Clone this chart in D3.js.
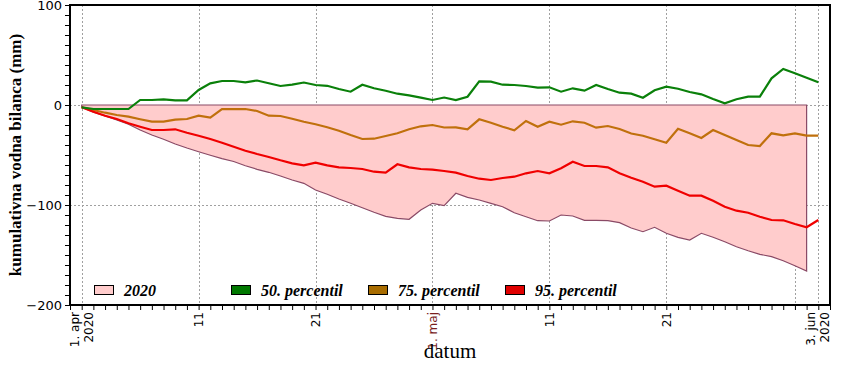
<!DOCTYPE html>
<html lang="sl">
<head>
    <meta charset="UTF-8"/>
    <title>bilanca</title>
    <script src="https://d3js.org/d3.v7.min.js" charset="utf-8"></script>
    <style type="text/css">
        body {
            margin: 0;
            background: #ffffff;
        }
        text {
            font-family: "DejaVu Sans", Verdana, sans-serif;
            font-size: 12px;
        }
        .grid line {
            stroke: #a0a0a0;
            stroke-dasharray: 2,2;
            shape-rendering: crispEdges;
        }
    </style>
</head>
<body>
<div id="my_dataviz"></div>
<script>

// data: one value per day, starting 1. apr 2020
var startDay = Date.UTC(2020, 3, 1);

var p50 = [-2.3, -4, -4, -4, -4, 5, 5, 5.7, 4.7, 4.7,
    15, 21.7, 24, 24, 22.7, 24.5, 21.7, 19, 20.3, 22.5,
    20, 19.2, 16, 13.3, 20.3, 16.7, 14.3, 11.3, 9.7, 7.3,
    5, 7.5, 5, 8.3, 23.7, 23.3, 20.3, 20, 19, 17.3,
    17.7, 13.3, 16.7, 14.3, 20, 16, 12.3, 11.3, 7.3, 14.7,
    18.3, 16.3, 13, 10.7, 6, 1.7, 5.7, 8.3, 8.3, 26.7,
    36, 31.7, 27.3, 22.7];

var p75 = [-2.3, -5, -7.7, -10, -11.7, -14.3, -16.7, -16.7, -14.7, -14,
    -10.7, -12.7, -4, -4.2, -4, -6, -10.7, -11, -13.7, -16.7,
    -19.3, -22.3, -25.7, -30, -34, -33.7, -31, -28.2, -24.3, -21.3,
    -20, -22.5, -22.3, -24.3, -14.3, -17.7, -21.7, -25.3, -16, -21.7,
    -16.7, -19.7, -16.3, -17.7, -22.7, -21, -24, -28.5, -30.7, -34.3,
    -37.7, -23.7, -28.3, -33, -25, -30, -35, -40, -41, -28.3,
    -30.3, -28.3, -30.7, -30.7];

var p95 = [-2.3, -6.7, -10.7, -14, -18.3, -21.7, -25, -25, -24.3, -27.7,
    -30.7, -34, -37.7, -41.8, -45.7, -49, -52, -55.3, -58.3, -60.3,
    -57.7, -60.3, -62.3, -63, -64, -66.7, -67.7, -59.3, -62.3, -64,
    -64.7, -66, -67.7, -71, -73.7, -75, -73, -71.7, -68.3, -66,
    -68.3, -63.3, -56.7, -61, -61, -62.3, -68.3, -72.8, -76.7, -81.7,
    -80.7, -85.7, -90.7, -90.7, -95.7, -101.7, -105.7, -107.7, -111.7, -115,
    -115.3, -119, -122.3, -115];

var y2020 = [-2.3, -7.3, -11, -15, -19.3, -25, -30, -34.3, -39, -43,
    -46.7, -50.3, -53.7, -56.5, -60.7, -64.3, -67.3, -71, -75, -78.3,
    -85, -89.3, -94, -98.3, -102.7, -107.3, -111.3, -113.3, -114.3, -105,
    -98.3, -100.7, -88.3, -92.3, -95, -98.3, -101.7, -107.7, -111.7, -115.7,
    -116, -110, -111, -115.3, -115.3, -115.7, -117.7, -123, -126.7, -122.3,
    -128.3, -132.3, -135, -128.3, -132.3, -136.7, -141.7, -145.7, -149.3, -151.7,
    -155.7, -160.7, -166];

// tick labels (day offset from 1. apr)
var tickDays = [0, 10, 20, 30, 40, 50, 63];
var tickLabels = [["1. apr", "2020"], ["11"], ["21"], ["1. maj"], ["11"], ["21"], ["3. jun", "2020"]];
var gridDays = [0, 10, 20, 30, 40, 50, 61, 63];
var yTicks = [100, 0, -100, -200];

var legendLabels = ["2020", "50. percentil", "75. percentil", "95. percentil"];
var legendColors = ["#ffcccc", "#007800", "#a86c00", "#e00000"];

function day(i) { return new Date(startDay + i * 86400000); }

// set the dimensions and margins of the graph
var margin = {top: 5, right: 20, bottom: 65, left: 70},
    width = 850 - margin.left - margin.right,
    height = 370 - margin.top - margin.bottom;

var svg = d3.select("#my_dataviz")
  .append("svg")
    .attr("width", 850)
    .attr("height", 370)
  .append("g")
    .attr("transform", "translate(" + margin.left + "," + margin.top + ")");

var x = d3.scaleUtc()
  .domain([day(-1), day(64)])
  .range([0, width]);

var y = d3.scaleLinear()
  .domain([-200, 100])
  .range([height, 0]);

// grid
var grid = svg.append("g").attr("class", "grid");
grid.selectAll("vline")
  .data(gridDays)
  .enter()
  .append("line")
    .attr("x1", function(d) { return Math.round(x(day(d))) + 0.5; })
    .attr("x2", function(d) { return Math.round(x(day(d))) + 0.5; })
    .attr("y1", 0)
    .attr("y2", height);
grid.selectAll("hline")
  .data([0, -100])
  .enter()
  .append("line")
    .attr("x1", 0)
    .attr("x2", width)
    .attr("y1", function(d) { return y(d) + 0.5; })
    .attr("y2", function(d) { return y(d) + 0.5; });

// 2020 area, closed back along zero
var area = d3.area()
  .x(function(d, i) { return x(day(i)); })
  .y0(y(0))
  .y1(function(d) { return y(d); });

svg.append("path")
  .datum(y2020)
  .attr("d", area)
  .attr("fill", "#ffcccc")
  .attr("stroke", "#8a4a66")
  .attr("stroke-width", 1.2);

// percentile lines
var line = d3.line()
  .x(function(d, i) { return x(day(i)); })
  .y(function(d) { return y(d); });

svg.append("path").datum(p75).attr("d", line)
  .attr("fill", "none").attr("stroke", "#c0700c").attr("stroke-width", 2.2);
svg.append("path").datum(p95).attr("d", line)
  .attr("fill", "none").attr("stroke", "#f00000").attr("stroke-width", 2.2);
svg.append("path").datum(p50).attr("d", line)
  .attr("fill", "none").attr("stroke", "#0a800a").attr("stroke-width", 2.2);

// Y axis
svg.append("g")
  .call(d3.axisLeft(y).tickValues(d3.range(-200, 101, 10)).tickSize(5).tickFormat(""))
  .call(function(g) { g.select(".domain").remove(); });
svg.append("g")
  .call(d3.axisLeft(y).tickValues(yTicks).tickSize(5).tickPadding(3))
  .call(function(g) { g.select(".domain").remove(); })
  .selectAll("text")
    .attr("fill", "#000")
    .style("font-size", "13px");

// X axis
var days = d3.range(-1, 65);
svg.append("g")
  .attr("transform", "translate(0," + height + ")")
  .call(d3.axisBottom(x).tickValues(days.map(day)).tickSize(5).tickFormat(""))
  .call(function(g) { g.select(".domain").remove(); });

var xl = svg.append("g")
  .selectAll("xlabel")
  .data(tickDays)
  .enter()
  .append("text")
    .attr("transform", function(d) { return "translate(" + x(day(d)) + "," + (height + 7) + ")rotate(-90)"; })
    .attr("text-anchor", "end")
    .attr("fill", function(d) { return d == 30 ? "#7a1e1e" : "#000"; });
xl.each(function(d, i) {
  var lines = tickLabels[i];
  var t = d3.select(this);
  lines.forEach(function(s, k) {
    t.append("tspan")
      .attr("x", 0)
      .attr("dy", k == 0 ? (lines.length == 1 ? "0.35em" : "-0.25em") : "1.15em")
      .text(s);
  });
});

// frame
svg.append("rect")
  .attr("x", 0)
  .attr("y", 0)
  .attr("width", width)
  .attr("height", height)
  .attr("fill", "none")
  .attr("stroke", "#000")
  .attr("stroke-width", 2);

// axis titles
svg.append("text")
  .attr("transform", "translate(" + (21 - margin.left) + "," + (height / 2) + ")rotate(-90)")
  .attr("text-anchor", "middle")
  .style("font-family", "'Liberation Serif', 'Times New Roman', serif")
  .style("font-size", "17px")
  .style("font-weight", "bold")
  .text("kumulativna vodna bilanca (mm)");

svg.append("text")
  .attr("x", width / 2)
  .attr("y", 353)
  .attr("text-anchor", "middle")
  .style("font-family", "'Liberation Serif', 'Times New Roman', serif")
  .style("font-size", "21px")
  .text("datum");

// legend
var leg = svg.selectAll("legend")
  .data(legendLabels)
  .enter()
  .append("g")
    .attr("transform", function(d, i) { return "translate(" + (24 + i * 137) + "," + (height - 20) + ")"; });
leg.append("rect")
  .attr("x", 0.5)
  .attr("y", 0.5)
  .attr("width", 19)
  .attr("height", 9)
  .attr("fill", function(d, i) { return legendColors[i]; })
  .attr("stroke", "#000");
leg.append("text")
  .attr("x", 30)
  .attr("y", 10.5)
  .style("font-family", "'Liberation Serif', 'Times New Roman', serif")
  .style("font-size", "16px")
  .style("font-weight", "bold")
  .style("font-style", "italic")
  .text(function(d) { return d; });

</script>
</body>
</html>
